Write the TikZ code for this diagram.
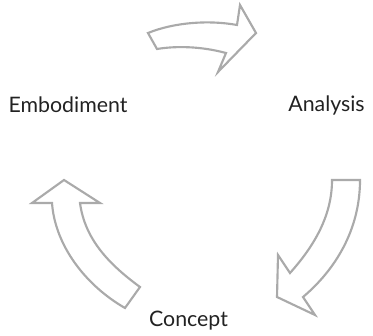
\documentclass[tikz,border=0pt]{standalone}
\usepackage{fontspec}
\setmainfont{Lato}
\definecolor{arrowgray}{RGB}{170,170,170}
\definecolor{labelgray}{RGB}{34,34,34}

\tikzset{every picture/.style={line width=0.75pt}}
\tikzset{
  cyclearrow/.style={draw=arrowgray, line width=1.6pt, line join=miter, fill=white},
  steplabel/.style={inner sep=0.75pt, text=labelgray, font=\fontsize{16}{19}\selectfont}
}

\begin{document}
\begin{tikzpicture}[x=0.75pt,y=0.75pt,yscale=-1,xscale=1]
\path (0,0) rectangle (373,335); %set diagram size

%Shape: Curved Right Arrow [id:top]
\draw [cyclearrow] (148,33) .. controls (175,22) and (210,20) .. (237,25) -- (240,5) -- (256,33) -- (218,72) -- (226,53) .. controls (200,46) and (175,46) .. (157,49) -- cycle ;

%Shape: Curved Down Arrow [id:right]
\draw [cyclearrow] (332,180) -- (360,180) .. controls (360,230) and (335,270) .. (303,297) -- (315,315) -- (277,297) -- (278,255) -- (290,273) .. controls (315,245) and (332,215) .. (332,180) -- cycle ;

%Shape: Curved Up Arrow [id:left]
\draw [cyclearrow] (64,180) -- (100,203) -- (80,203) .. controls (85,240) and (110,265) .. (140,287) -- (125,308) .. controls (85,285) and (55,245) .. (52,203) -- (32,203) -- cycle ;

% Text Node
\node [steplabel] (embodiment) at (68,105) {Embodiment};
% Text Node
\node [steplabel] (analysis) at (326.5,105) {Analysis};
% Text Node
\node [steplabel] (concept) at (188.5,321) {Concept};

\end{tikzpicture}
\end{document}
